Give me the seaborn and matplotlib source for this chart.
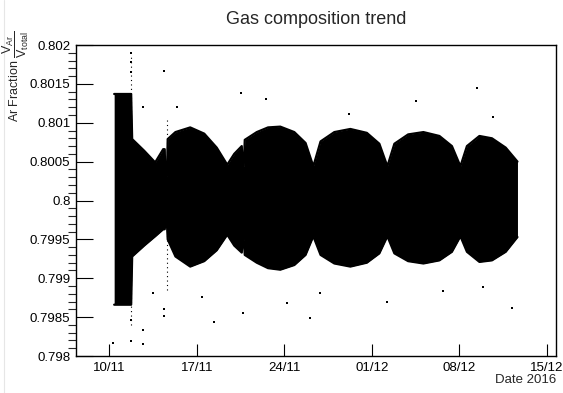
import seaborn as sns
import matplotlib.pyplot as plt
from matplotlib.lines import Line2D
from matplotlib.ticker import MultipleLocator, FixedLocator
import pandas as pd

# envelope of the dense Ar fraction cloud
# days counted from 10/11/2016
env_day = [0.40, 1.76, 1.84, 2.80, 3.68, 4.32, 4.44, 4.50, 4.62, 4.68,
           5.30, 6.48, 7.60, 8.60, 9.44, 10.00, 10.60, 10.68, 10.76, 10.84,
           11.80, 12.70, 13.68, 14.80, 15.70, 16.32, 16.90, 18.00, 19.28,
           20.60, 21.60, 22.24, 22.80, 23.90, 25.12, 26.40, 27.40, 28.08,
           28.60, 29.60, 30.60, 31.70, 32.64]
env_upper = [0.80137, 0.80137, 0.80079, 0.80064, 0.80049, 0.80066, 0.80066,
             0.80031, 0.80031, 0.80079,
             0.80088, 0.80094, 0.80086, 0.80068, 0.80046, 0.80060, 0.80070,
             0.80044, 0.80044, 0.80078,
             0.80088, 0.80094, 0.80095, 0.80088, 0.80074, 0.80044, 0.80076,
             0.80088, 0.80092,
             0.80087, 0.80073, 0.80044, 0.80073, 0.80085, 0.80088, 0.80083,
             0.80070, 0.80044,
             0.80070, 0.80083, 0.80080, 0.80068, 0.80050]
env_lower = [0.79866, 0.79866, 0.79928, 0.79942, 0.79954, 0.79963, 0.79963,
             0.79970, 0.79970, 0.79950,
             0.79928, 0.79915, 0.79922, 0.79936, 0.79956, 0.79942, 0.79933,
             0.79950, 0.79950, 0.79930,
             0.79920, 0.79913, 0.79911, 0.79917, 0.79930, 0.79954, 0.79930,
             0.79919, 0.79915,
             0.79920, 0.79932, 0.79954, 0.79932, 0.79922, 0.79919, 0.79923,
             0.79934, 0.79954,
             0.79934, 0.79921, 0.79923, 0.79934, 0.79953]

# isolated points outside the cloud
out_day = [0.32, 1.76, 1.76, 1.76, 1.76, 1.76, 2.72, 2.72, 2.72, 3.52,
           4.40, 4.40, 4.40, 5.44, 7.44, 8.40, 10.56, 10.72, 12.56, 14.24,
           16.08, 16.88, 19.20, 22.24, 24.56, 26.72, 29.44, 29.92, 30.72,
           32.24]
out_val = [0.79817, 0.80190, 0.80178, 0.80165, 0.79819, 0.79846, 0.80120,
           0.79834, 0.79815, 0.79881, 0.80166, 0.79861, 0.79852, 0.80120,
           0.79876, 0.79844, 0.80138, 0.79855, 0.80130, 0.79868, 0.79849,
           0.79881, 0.80111, 0.79870, 0.80128, 0.79883, 0.80145, 0.79889,
           0.80108, 0.79862]

# short vertical runs of scattered points
spike_day = [1.76, 4.60]
spike_lo = [0.79840, 0.79885]
spike_hi = [0.80185, 0.80108]

tick_dates = ["2016-11-10", "2016-11-17", "2016-11-24", "2016-12-01",
              "2016-12-08", "2016-12-15"]

start = pd.Timestamp("2016-11-10")
to_date = lambda d: [start + pd.Timedelta(days=v) for v in d]

env = pd.DataFrame({"date": to_date(env_day), "upper": env_upper, "lower": env_lower})
out = pd.DataFrame({"date": to_date(out_day), "value": out_val})

sns.set_theme(style="white")
plt.rcParams["font.family"] = ["Liberation Sans", "DejaVu Sans"]
plt.rcParams["mathtext.fontset"] = "custom"
plt.rcParams["mathtext.rm"] = "Liberation Sans"
plt.rcParams["mathtext.it"] = "Liberation Sans"

fig = plt.figure(figsize=(5.63, 3.93), dpi=100)
ax = fig.add_axes([76 / 563, 1 - 356 / 393, 480 / 563, 311 / 393])

ax.fill_between(env["date"], env["lower"], env["upper"], color="black", lw=0)
sns.lineplot(data=env, x="date", y="upper", ax=ax, color="black", lw=1.6)
sns.lineplot(data=env, x="date", y="lower", ax=ax, color="black", lw=1.6)
ax.vlines(to_date(spike_day), spike_lo, spike_hi, color="black", lw=0.8,
          linestyles=(0, (1, 3)))
sns.scatterplot(data=out, x="date", y="value", ax=ax, color="black", s=2,
                marker="s", linewidth=0)

ax.set_xlim(start + pd.Timedelta(days=-2.65), start + pd.Timedelta(days=35.72))
ax.set_ylim(0.798, 0.802)

ticks = pd.to_datetime(tick_dates)
ax.set_xticks(ticks)
ax.set_xticklabels([t.strftime("%d/%m") for t in ticks])
ax.yaxis.set_major_locator(MultipleLocator(0.0005))
ax.yaxis.set_minor_locator(MultipleLocator(0.0001))
ax.yaxis.set_major_formatter(plt.FuncFormatter(lambda v, p: f"{v:.4f}".rstrip("0").rstrip(".")))
ax.xaxis.set_minor_locator(FixedLocator([]))

ax.tick_params(axis="both", direction="in", labelsize=9.5, colors="black", pad=4)
ax.tick_params(axis="y", which="major", length=12, width=0.8, left=True)
ax.tick_params(axis="y", which="minor", length=6, width=0.8, left=True)
ax.tick_params(axis="x", which="major", length=9, width=0.8, bottom=True)
for s in ax.spines.values():
    s.set_color("black")
    s.set_linewidth(1.0)

ax.set_xlabel("")
ax.set_ylabel("")
fig.text(556 / 563, 1 - 380 / 393, "Date 2016", ha="right", va="center", fontsize=9.5)
fig.text(16 / 563, 1 - 30 / 393, r"Ar Fraction $\dfrac{V_{Ar}}{V_{total}}$",
         rotation=90, ha="center", va="top", fontsize=9)
fig.text(316 / 563, 1 - 20 / 393, "Gas composition trend", ha="center",
         va="center", fontsize=13)
fig.add_artist(Line2D([4 / 563, 4 / 563], [0, 1], color="#e6e6e6", lw=0.8))

fig.savefig("out.png", dpi=100)
